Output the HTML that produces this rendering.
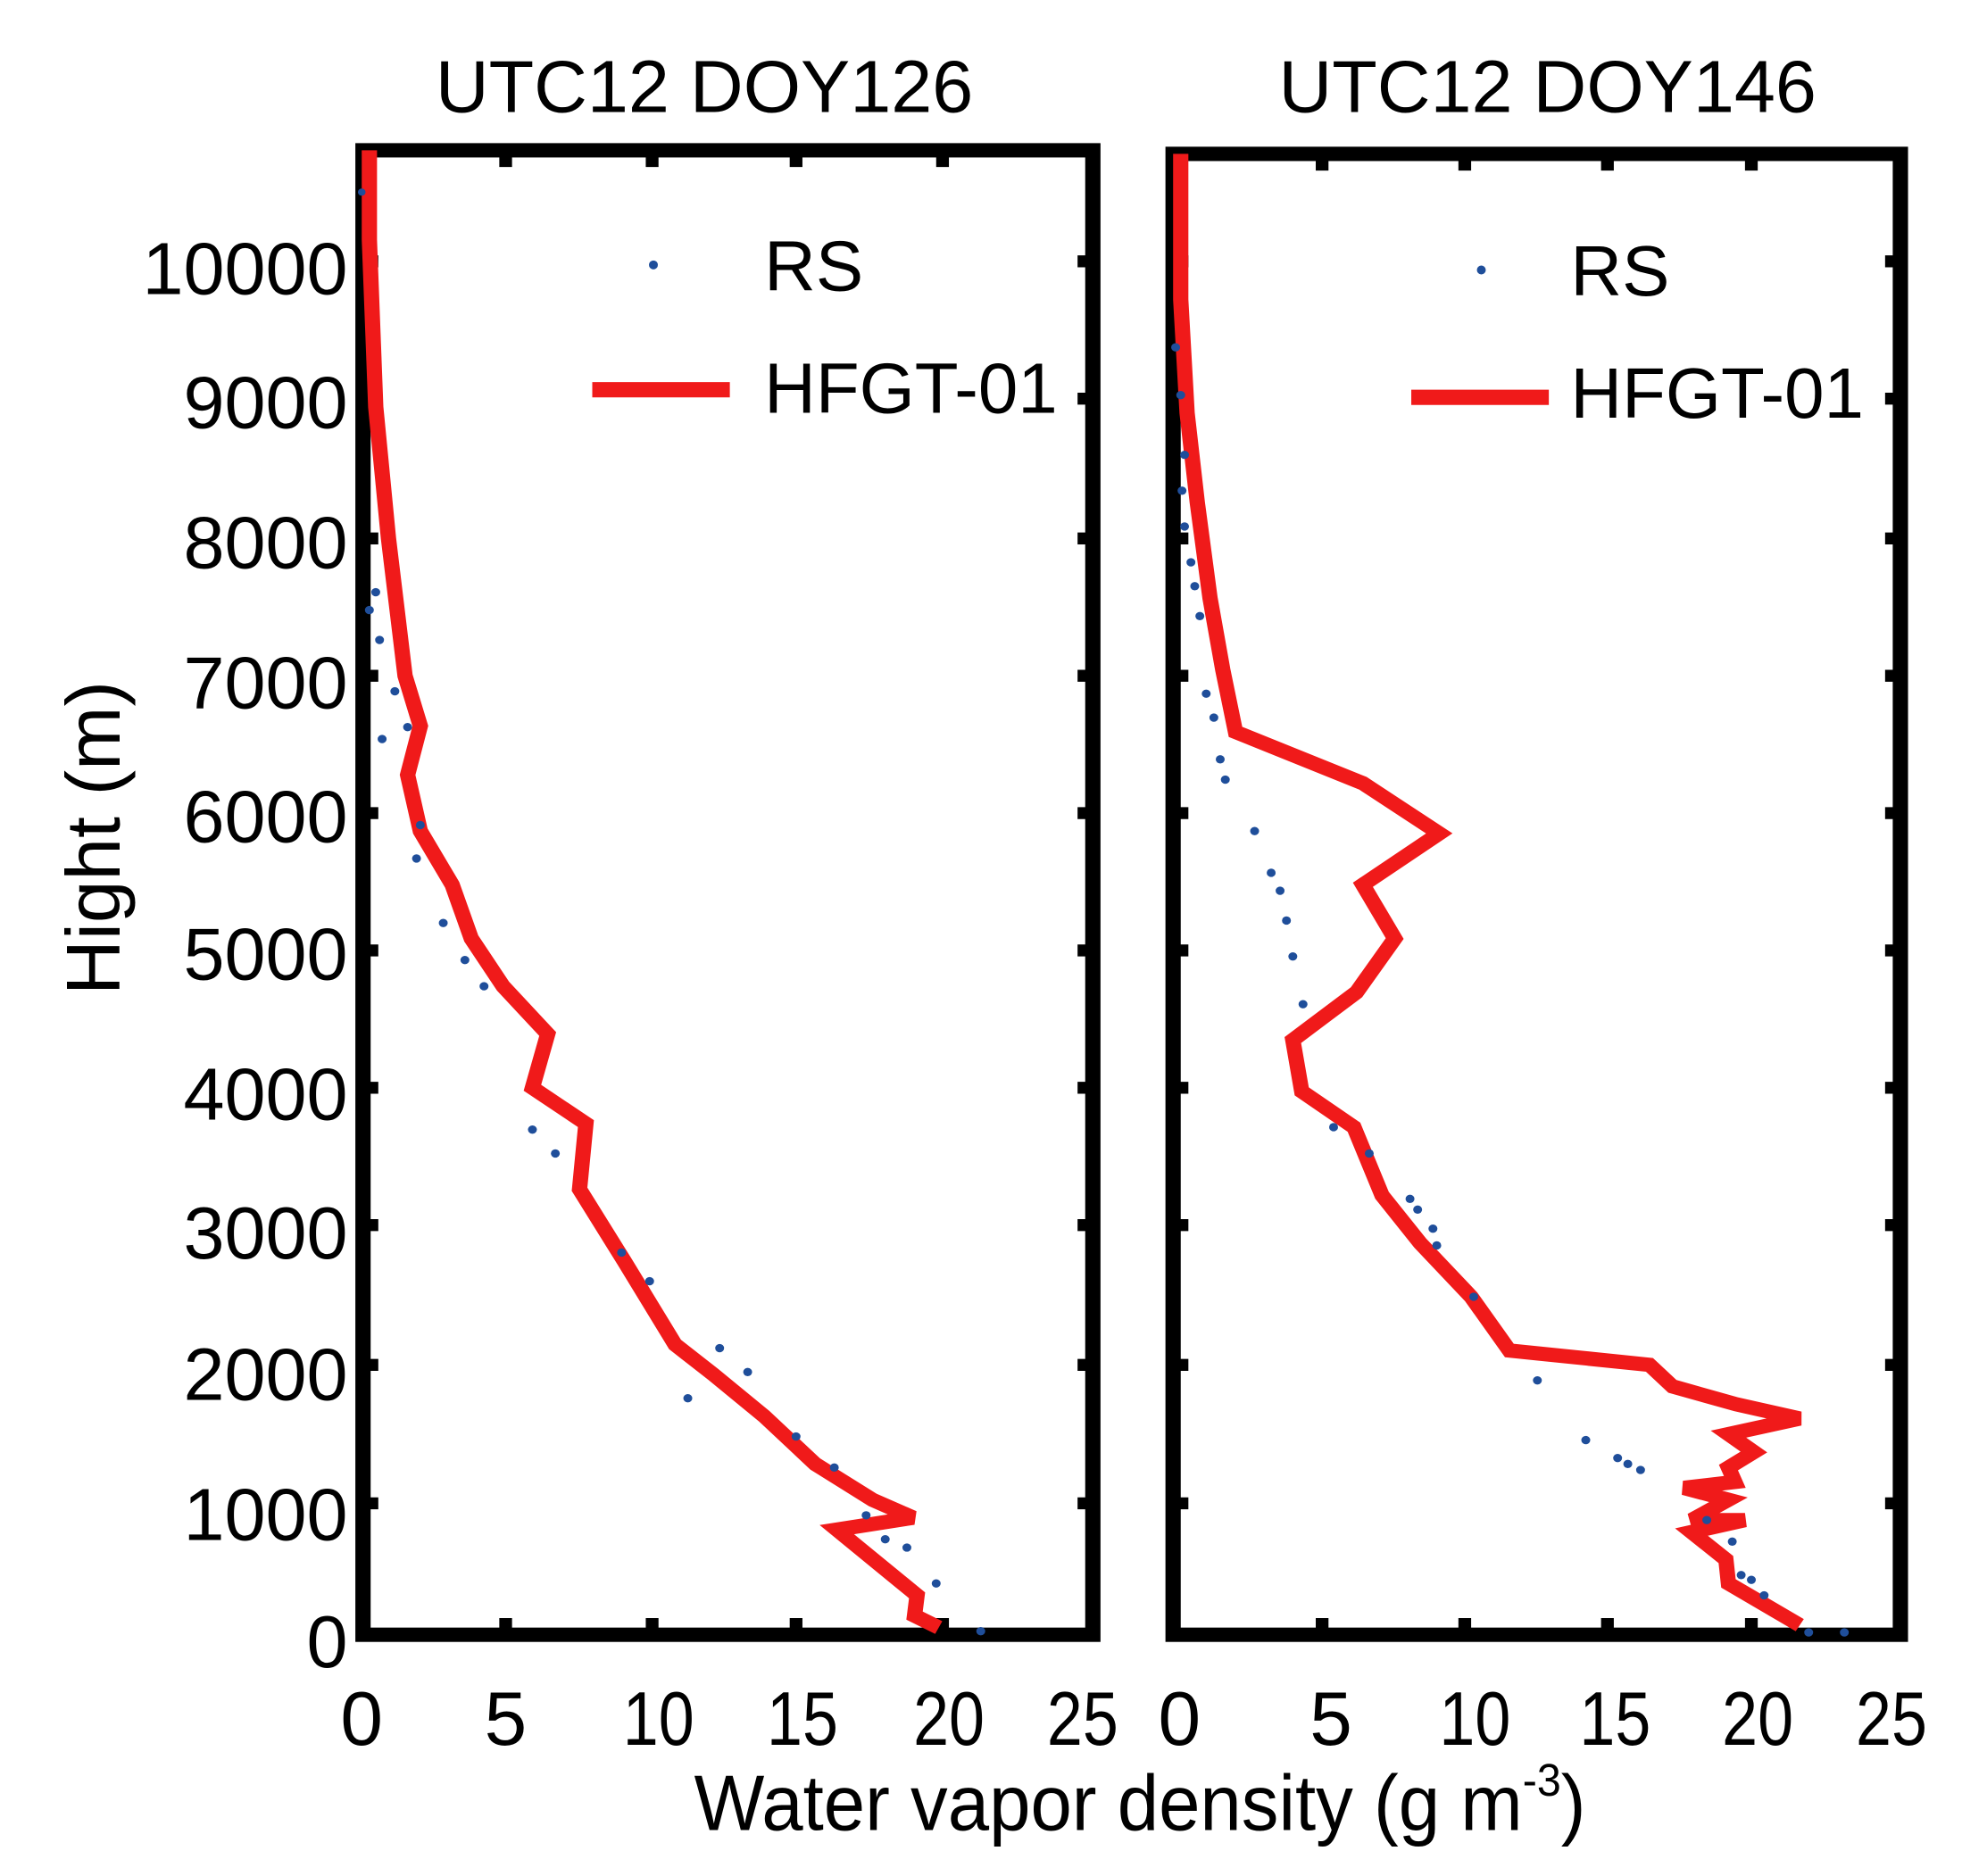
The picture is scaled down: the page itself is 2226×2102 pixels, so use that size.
<!DOCTYPE html>
<html><head><meta charset="utf-8"><style>
html,body{margin:0;padding:0;background:#fff;}
svg{display:block;}
text{font-family:"Liberation Sans",Arial,sans-serif;fill:#000;}
.n{font-family:"Liberation Sans Narrow","Liberation Sans",sans-serif;}
</style></head><body>
<svg width="2226" height="2102" viewBox="0 0 1560 1473" preserveAspectRatio="none" xmlns="http://www.w3.org/2000/svg">
<rect width="1560" height="1473" fill="#fff"/>
<text x="553" y="88" font-size="58" text-anchor="middle">UTC12 DOY126</text>
<text x="1215" y="88" font-size="58" text-anchor="middle">UTC12 DOY146</text>
<text transform="translate(94,658) rotate(-90)" font-size="60" text-anchor="middle">Hight (m)</text>
<g font-size="58" text-anchor="end">
<text x="273" y="231">10000</text>
<text x="273" y="336">9000</text>
<text x="273" y="446">8000</text>
<text x="273" y="556">7000</text>
<text x="273" y="661">6000</text>
<text x="273" y="769">5000</text>
<text x="273" y="879">4000</text>
<text x="273" y="988">3000</text>
<text x="273" y="1099">2000</text>
<text x="273" y="1209">1000</text>
<text x="273" y="1309">0</text>
</g>
<g font-size="60" text-anchor="middle" class="n">
<text x="284" y="1370">0</text><text x="397" y="1370">5</text><text x="517" y="1370" textLength="56" lengthAdjust="spacingAndGlyphs">10</text><text x="630" y="1370" textLength="56" lengthAdjust="spacingAndGlyphs">15</text><text x="745" y="1370" textLength="56" lengthAdjust="spacingAndGlyphs">20</text><text x="850" y="1370" textLength="56" lengthAdjust="spacingAndGlyphs">25</text>
<text x="926" y="1370">0</text><text x="1045" y="1370">5</text><text x="1158" y="1370" textLength="56" lengthAdjust="spacingAndGlyphs">10</text><text x="1268" y="1370" textLength="56" lengthAdjust="spacingAndGlyphs">15</text><text x="1380" y="1370" textLength="56" lengthAdjust="spacingAndGlyphs">20</text><text x="1485" y="1370" textLength="56" lengthAdjust="spacingAndGlyphs">25</text>
</g>
<text x="545" y="1437" font-size="62" class="n" textLength="700" lengthAdjust="spacingAndGlyphs">Water vapor density (g m<tspan font-size="36" dy="-27">-3</tspan><tspan dy="27">)</tspan></text>

<circle cx="513" cy="208" r="3.5" fill="#1f4e9a"/>
<text x="600" y="228" font-size="56">RS</text>
<line x1="465" y1="306" x2="573" y2="306" stroke="#f01a1a" stroke-width="12"/>
<text x="600" y="324" font-size="56">HFGT-01</text>
<circle cx="1163" cy="212" r="3.5" fill="#1f4e9a"/>
<text x="1233" y="232" font-size="56">RS</text>
<line x1="1108" y1="312" x2="1216" y2="312" stroke="#f01a1a" stroke-width="12"/>
<text x="1233" y="328" font-size="56">HFGT-01</text>

<g transform="matrix(1 0 0 0.9377 0 0.8)">
<rect x="285" y="125" width="573" height="1243" fill="none" stroke="#000" stroke-width="12"/>
<g transform="translate(-5,0)">
<rect x="926" y="128" width="571" height="1240" fill="none" stroke="#000" stroke-width="12"/>
</g>
<g stroke="#000" stroke-width="10">
<path d="M397 1368v-14M512 1368v-14M625 1368v-14M740 1368v-14M397 125v14M512 125v14M625 125v14M740 125v14"/>
<path d="M1038 1368v-14M1150 1368v-14M1262 1368v-14M1375 1368v-14M1038 128v14M1150 128v14M1262 128v14M1375 128v14"/>
<path d="M285 218h12M285 333h12M285 450h12M285 565h12M285 680h12M285 795h12M285 910h12M285 1025h12M285 1142h12M285 1258h12M858 218h-12M858 333h-12M858 450h-12M858 565h-12M858 680h-12M858 795h-12M858 910h-12M858 1025h-12M858 1142h-12M858 1258h-12"/>
<path d="M921 218h12M921 333h12M921 450h12M921 565h12M921 680h12M921 795h12M921 910h12M921 1025h12M921 1142h12M921 1258h12M1492 218h-12M1492 333h-12M1492 450h-12M1492 565h-12M1492 680h-12M1492 795h-12M1492 910h-12M1492 1025h-12M1492 1142h-12M1492 1258h-12"/>
</g>
<g fill="none" stroke="#f01a1a" stroke-width="12" stroke-linejoin="miter" stroke-miterlimit="3">
<polyline points="290,125 290,200 295,340 305,450 318,565 330,607 320,648 330,695 355,740 370,785 395,825 430,865 418,910 460,940 455,995 490,1055 530,1125 560,1150 600,1185 640,1225 685,1255 717,1270 657,1280 720,1335 718,1352 737,1362"/>
<polyline transform="translate(-5,0)" points="932,128 932,250 937,345 945,420 955,500 965,560 975,612 1075,655 1135,697 1075,740 1100,785 1070,830 1020,870 1027,913 1068,943 1090,1000 1120,1040 1160,1085 1190,1130 1300,1142 1318,1160 1368,1175 1418,1187 1362,1200 1382,1215 1362,1228 1367,1240 1327,1245 1362,1255 1333,1272 1375,1272 1333,1282 1360,1305 1362,1325 1418,1360"/>
</g>
<g fill="#1f4e9a">
<circle cx="284" cy="160" r="3"/><circle cx="295" cy="495" r="3.5"/><circle cx="290" cy="510" r="3.5"/><circle cx="298" cy="535" r="3.5"/><circle cx="310" cy="578" r="3.5"/><circle cx="300" cy="618" r="3.5"/><circle cx="320" cy="608" r="3.5"/><circle cx="330" cy="690" r="3.5"/><circle cx="327" cy="718" r="3.5"/><circle cx="348" cy="772" r="3.5"/><circle cx="365" cy="803" r="3.5"/><circle cx="380" cy="825" r="3.5"/><circle cx="418" cy="945" r="3.5"/><circle cx="436" cy="965" r="3.5"/><circle cx="488" cy="1048" r="3.5"/><circle cx="510" cy="1072" r="3.5"/><circle cx="540" cy="1170" r="3.5"/><circle cx="565" cy="1128" r="3.5"/><circle cx="587" cy="1148" r="3.5"/><circle cx="625" cy="1202" r="3.5"/><circle cx="655" cy="1228" r="3.5"/><circle cx="680" cy="1268" r="3.5"/><circle cx="695" cy="1288" r="3.5"/><circle cx="712" cy="1295" r="3.5"/><circle cx="735" cy="1325" r="3.5"/><circle cx="770" cy="1365" r="3.5"/>
<g transform="translate(-5,0)">
<circle cx="928" cy="290" r="3.5"/><circle cx="932" cy="330" r="3.5"/><circle cx="935" cy="380" r="3.5"/><circle cx="933" cy="410" r="3.5"/><circle cx="935" cy="440" r="3.5"/><circle cx="940" cy="470" r="3.5"/><circle cx="943" cy="490" r="3.5"/><circle cx="947" cy="515" r="3.5"/><circle cx="952" cy="580" r="3.5"/><circle cx="958" cy="600" r="3.5"/><circle cx="963" cy="635" r="3.5"/><circle cx="967" cy="652" r="3.5"/><circle cx="990" cy="695" r="3.5"/><circle cx="1003" cy="730" r="3.5"/><circle cx="1010" cy="745" r="3.5"/><circle cx="1015" cy="770" r="3.5"/><circle cx="1020" cy="800" r="3.5"/><circle cx="1028" cy="840" r="3.5"/><circle cx="1052" cy="943" r="3.5"/><circle cx="1080" cy="965" r="3.5"/><circle cx="1112" cy="1003" r="3.5"/><circle cx="1118" cy="1012" r="3.5"/><circle cx="1130" cy="1028" r="3.5"/><circle cx="1133" cy="1042" r="3.5"/><circle cx="1162" cy="1085" r="3.5"/><circle cx="1212" cy="1155" r="3.5"/><circle cx="1250" cy="1205" r="3.5"/><circle cx="1275" cy="1220" r="3.5"/><circle cx="1283" cy="1225" r="3.5"/><circle cx="1293" cy="1230" r="3.5"/><circle cx="1345" cy="1272" r="3.5"/><circle cx="1365" cy="1290" r="3.5"/><circle cx="1372" cy="1318" r="3.5"/><circle cx="1380" cy="1322" r="3.5"/><circle cx="1390" cy="1335" r="3.5"/><circle cx="1425" cy="1366" r="3.5"/><circle cx="1453" cy="1366" r="3.5"/>
</g>
</g>
</g>
</svg>
</body></html>
